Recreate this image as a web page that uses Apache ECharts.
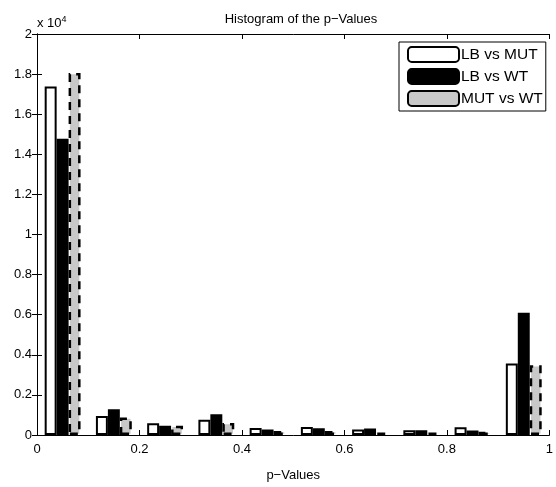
<!DOCTYPE html>
<html>
<head>
<meta charset="utf-8">
<script src="https://cdn.jsdelivr.net/npm/echarts@6/dist/echarts.min.js"></script>
<style>
  html, body { margin: 0; padding: 0; background: #fff; }
  #chart { width: 556px; height: 487px; }
</style>
</head>
<body>
<div id="chart"></div>
<script>
// Histogram bins (p-value ranges of width 0.1)
var bins = ['0-0.1', '0.1-0.2', '0.2-0.3', '0.3-0.4', '0.4-0.5',
            '0.5-0.6', '0.6-0.7', '0.7-0.8', '0.8-0.9', '0.9-1'];

// Counts per bin for each comparison
var lbVsMut = [17380, 950, 580, 760, 350, 400, 280, 240, 390, 3560];
var lbVsWt  = [14780, 1290, 460, 1030, 280, 340, 320, 240, 230, 6100];
var mutVsWt = [18050, 870, 460, 600, 200, 200, 120, 120, 160, 3480];

var seriesNames = ['LB vs MUT', 'LB vs WT', 'MUT vs WT'];

// Axis ticks
var xTickStep = 0.2;
var yTickStep = 2000;
var yMax = 20000;

var FONT = 'Liberation Sans, Arial, Helvetica, sans-serif';

var chart = echarts.init(document.getElementById('chart'), null, { renderer: 'canvas' });

var option = {
  animation: false,
  backgroundColor: '#fff',
  textStyle: { fontFamily: FONT, color: '#000' },
  title: {
    text: 'Histogram of the p\u2212Values',
    left: 296, top: 8, textAlign: 'center',
    textStyle: { fontFamily: FONT, fontSize: 13, fontWeight: 'normal', color: '#000' }
  },
  graphic: [{
    type: 'text',
    left: 37, top: 15,
    style: {
      text: 'x 10{sup|4}',
      font: '13px ' + FONT,
      fill: '#000',
      rich: { sup: { fontSize: 9, verticalAlign: 'top', padding: [0, 0, 8, 0], fontFamily: FONT } }
    }
  }],
  legend: {
    data: seriesNames,
    orient: 'vertical',
    left: 399, top: 42,
    itemWidth: 51, itemHeight: 15,
    itemGap: 5,
    padding: [4, 3, 4, 8],
    backgroundColor: '#fff',
    borderColor: '#000', borderWidth: 1,
    textStyle: { fontFamily: FONT, fontSize: 15.5, color: '#000', padding: [0, 0, 0, -3] },
    selectedMode: false
  },
  grid: { left: 37, top: 34, right: -2, bottom: 43, containLabel: false },
  xAxis: [
    {
      // bin axis for the bars
      type: 'category', data: bins, show: false, boundaryGap: true
    },
    {
      type: 'value', position: 'bottom', min: 0, max: 1, interval: xTickStep,
      name: 'p\u2212Values', nameLocation: 'middle', nameGap: 34,
      nameTextStyle: { fontFamily: FONT, fontSize: 13, color: '#000' },
      axisLine: { show: true, lineStyle: { color: '#000', width: 1 } },
      axisTick: { show: true, inside: true, length: 5, lineStyle: { color: '#000' } },
      axisLabel: { fontFamily: FONT, fontSize: 13, color: '#000', margin: 8,
                   formatter: function (v) { return String(parseFloat(v.toFixed(1))); } },
      splitLine: { show: false }
    },
    {
      type: 'value', position: 'top', min: 0, max: 1, interval: xTickStep,
      axisLine: { show: true, lineStyle: { color: '#000', width: 1 } },
      axisTick: { show: true, inside: true, length: 5, lineStyle: { color: '#000' } },
      axisLabel: { show: false },
      splitLine: { show: false }
    }
  ],
  yAxis: [
    {
      type: 'value', position: 'left', min: 0, max: yMax, interval: yTickStep,
      axisLine: { show: true, lineStyle: { color: '#000', width: 1 } },
      axisTick: { show: true, inside: true, length: 5, lineStyle: { color: '#000' } },
      axisLabel: { fontFamily: FONT, fontSize: 13, color: '#000', margin: 5,
                   formatter: function (v) { return String(parseFloat((v / 10000).toFixed(1))); } },
      splitLine: { show: false }
    },
    {
      type: 'value', position: 'right', min: 0, max: yMax, interval: yTickStep,
      axisLine: { show: true, lineStyle: { color: '#000', width: 1 } },
      axisTick: { show: true, inside: true, length: 5, lineStyle: { color: '#000' } },
      axisLabel: { show: false },
      splitLine: { show: false }
    }
  ],
  series: [
    {
      name: seriesNames[0], type: 'bar', xAxisIndex: 0, yAxisIndex: 0,
      data: lbVsMut, barGap: '0%', barCategoryGap: '30%',
      itemStyle: { color: '#fff', borderColor: '#000', borderWidth: 2 }
    },
    {
      name: seriesNames[1], type: 'bar', xAxisIndex: 0, yAxisIndex: 0,
      data: lbVsWt, barGap: '0%', barCategoryGap: '30%',
      itemStyle: { color: '#000', borderColor: '#000', borderWidth: 2 }
    },
    {
      name: seriesNames[2], type: 'bar', xAxisIndex: 0, yAxisIndex: 0,
      data: mutVsWt, barGap: '0%', barCategoryGap: '30%',
      itemStyle: { color: '#c8c8c8', borderColor: '#000', borderWidth: 2.5,
                   borderType: [8, 6] }
    }
  ]
};

chart.setOption(option);
</script>
</body>
</html>
